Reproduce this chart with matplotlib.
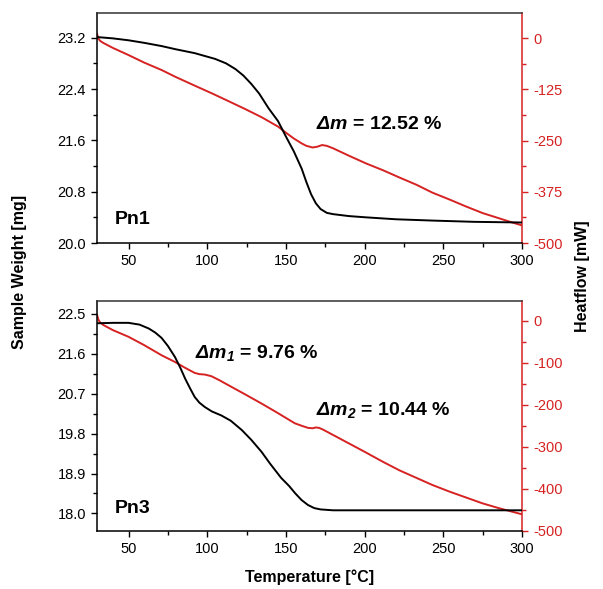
import matplotlib
matplotlib.use("Agg")
import matplotlib.pyplot as plt
from matplotlib.ticker import MultipleLocator, FormatStrFormatter

plt.rcParams['font.family'] = ['Liberation Sans', 'DejaVu Sans']
plt.rcParams['mathtext.fontset'] = 'custom'
plt.rcParams['mathtext.rm'] = 'Liberation Sans'
plt.rcParams['mathtext.it'] = 'Liberation Sans:italic'
plt.rcParams['mathtext.bf'] = 'Liberation Sans:bold'
plt.rcParams['mathtext.bfit'] = 'Liberation Sans:italic:bold'

# ---- data: Pn1 (top) ----
t1_tg = [30, 40, 50, 60, 71, 80, 92, 105, 112, 118, 123, 128, 133, 139, 145, 150, 155,
         160, 163, 166, 169, 172, 176, 180, 190, 201, 220, 243, 270, 300]
w1 = [23.21, 23.19, 23.16, 23.12, 23.07, 23.02, 22.96, 22.87, 22.80, 22.71, 22.61, 22.48,
      22.33, 22.10, 21.90, 21.66, 21.43, 21.16, 20.95, 20.76, 20.62, 20.53, 20.47, 20.45,
      20.42, 20.40, 20.37, 20.35, 20.33, 20.32]
t1_hf = [30, 31, 32, 34, 40, 50, 60, 71, 80, 92, 103, 113, 124, 134.5, 145, 150.4, 155,
         160, 163, 167, 170, 173, 176, 180, 190, 201, 212, 222, 233, 243, 254, 264.5, 275,
         285.7, 293, 300]
h1 = [10, -2, -7, -12, -24, -41.5, -60, -78, -95, -116, -135, -153, -173, -193, -216,
      -232, -245, -257, -263, -267, -265, -261, -263, -269, -287, -306, -323, -340, -358,
      -377, -394, -411, -427, -440, -449, -457]

# ---- data: Pn3 (bottom) ----
t3_tg = [30, 40, 50, 57, 63, 67, 71, 75, 79.5, 83, 86, 89, 92, 95, 98.5, 103, 109, 115,
         122, 128, 134.5, 140, 147, 152, 156, 160, 164, 168, 172, 180, 190, 220, 260, 300]
w3 = [22.29, 22.30, 22.30, 22.26, 22.17, 22.08, 21.96, 21.78, 21.53, 21.28, 21.04, 20.83,
      20.63, 20.50, 20.40, 20.30, 20.21, 20.09, 19.88, 19.66, 19.39, 19.12, 18.80, 18.62,
      18.45, 18.30, 18.19, 18.12, 18.09, 18.07, 18.07, 18.07, 18.07, 18.07]
t3_hf = [30, 31, 32, 34, 40, 50, 60, 71, 79.5, 86, 92, 95, 98.5, 102.7, 108, 113.3, 124,
         134.5, 145, 155.6, 160, 164, 167, 169, 171, 173.5, 180, 190, 200, 211.7, 222,
         232.8, 243, 254, 264.5, 275, 285, 294, 300]
h3 = [14, 2, -4, -10, -22, -38, -58, -82, -98, -112, -124, -127, -128, -132, -142, -153,
      -175, -197, -220, -244, -250, -255, -256, -254, -255, -259, -272, -292, -312, -336,
      -356, -374, -391, -407, -421, -435, -446, -455, -461]

RED = '#d62222'

fig = plt.figure(figsize=(6.03, 5.89), dpi=100)

def make_panel(rect, t_tg, w, t_hf, h, ylim_l, lstep, ylim_r, rstep, label, lab_xy, ann):
    ax = fig.add_axes(rect)
    ax.plot(t_tg, w, color='black', lw=1.4, zorder=3)
    ax.set_xlim(30, 300)
    ax.set_ylim(*ylim_l)
    ax.xaxis.set_major_locator(MultipleLocator(50))
    ax.xaxis.set_minor_locator(MultipleLocator(25))
    ax.yaxis.set_major_locator(MultipleLocator(lstep))
    ax.yaxis.set_minor_locator(MultipleLocator(lstep / 2))
    ax.yaxis.set_major_formatter(FormatStrFormatter('%.1f'))
    ax.tick_params(which='both', direction='out', labelsize=10.5, colors='black')
    ax.tick_params(which='major', length=4.5, width=1)
    ax.tick_params(which='minor', length=3, width=1)
    for s in ['left', 'bottom', 'top']:
        ax.spines[s].set_linewidth(1.1)
    ax.spines['top'].set_color('#333333')
    ax.spines['right'].set_visible(False)

    ax2 = ax.twinx()
    ax2.plot(t_hf, h, color=RED, lw=1.4, zorder=2)
    ax2.set_ylim(*ylim_r)
    ax2.yaxis.set_major_locator(MultipleLocator(rstep))
    ax2.yaxis.set_minor_locator(MultipleLocator(rstep / 2))
    ax2.yaxis.set_major_formatter(FormatStrFormatter('%d'))
    ax2.tick_params(which='both', direction='out', labelsize=10.5, colors=RED)
    ax2.tick_params(which='major', length=4.5, width=1)
    ax2.tick_params(which='minor', length=3, width=1)
    ax2.spines['right'].set_color(RED)
    ax2.spines['right'].set_linewidth(1.1)
    for s in ['left', 'bottom', 'top']:
        ax2.spines[s].set_visible(False)
    ax.set_zorder(ax2.get_zorder() + 1)
    ax.patch.set_visible(False)

    ax.text(lab_xy[0], lab_xy[1], label, fontsize=14, fontweight='bold',
            ha='left', va='center')
    for (tx, ty, s) in ann:
        ax.text(tx, ty, s, fontsize=14, fontweight='bold', ha='left', va='center')
    return ax, ax2

make_panel([0.1609, 0.5874, 0.7048, 0.3905], t1_tg, w1, t1_hf, h1,
           (20.0, 23.585), 0.8, (-500, 61), 125, 'Pn1', (41.4, 20.36),
           [(169.4, 21.85, r'$\mathbfit{\Delta m}$ = 12.52 %')])
make_panel([0.1609, 0.099, 0.7048, 0.3905], t3_tg, w3, t3_hf, h3,
           (17.61, 22.80), 0.9, (-500, 48), 100, 'Pn3', (41.4, 18.11),
           [(92.2, 21.61, r'$\mathbfit{\Delta m_{1}}$ = 9.76 %'),
            (169.4, 20.33, r'$\mathbfit{\Delta m_{2}}$ = 10.44 %')])

fig.text(0.032, 1 - 272 / 589, 'Sample Weight [mg]', rotation=90, fontsize=11.5,
         fontweight='bold', ha='center', va='center')
fig.text(0.966, 1 - 276 / 589, 'Heatflow [mW]', rotation=90, fontsize=11.5,
         fontweight='bold', ha='center', va='center')
fig.text(0.514, 1 - 577 / 589, 'Temperature [°C]', fontsize=11.5,
         fontweight='bold', ha='center', va='center')

fig.savefig('out.png', dpi=100)
